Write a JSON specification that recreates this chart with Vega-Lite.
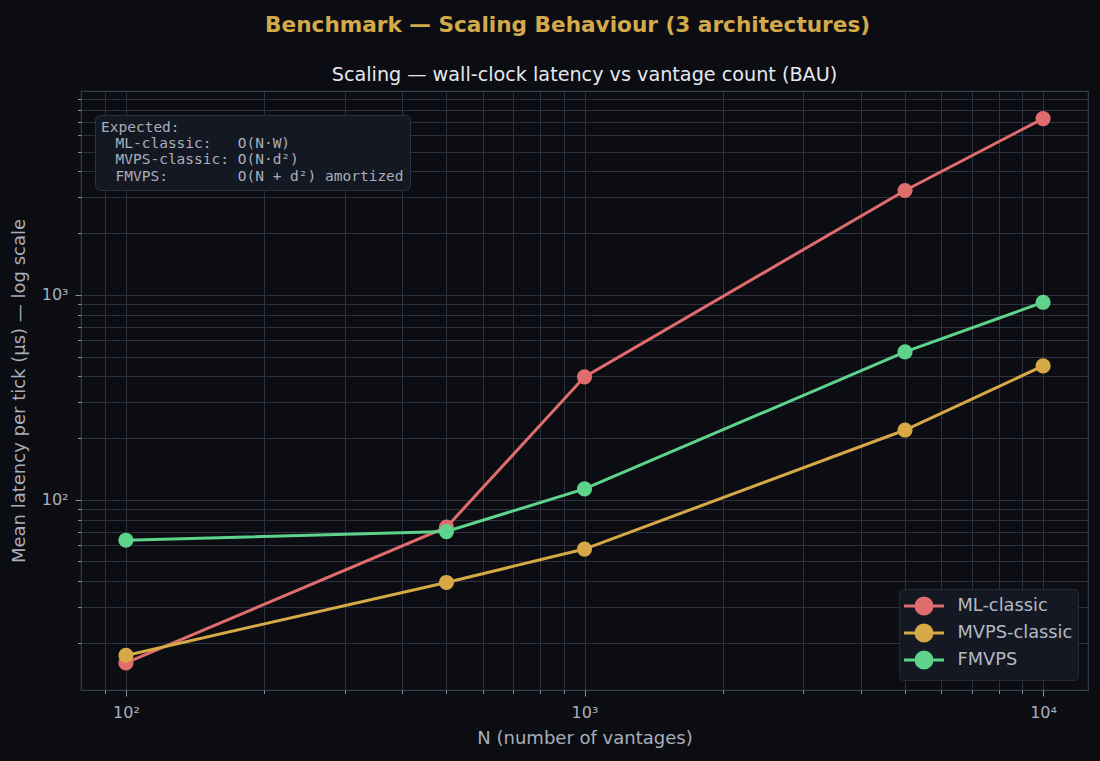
{
  "$schema": "https://vega.github.io/schema/vega-lite/v6.json",
  "autosize": {"type": "none"},
  "padding": {"left": 81, "top": 91, "right": 12, "bottom": 71},
  "width": 1007,
  "height": 599,
  "background": "#0b0d12",
  "title": {
    "text": "Benchmark — Scaling Behaviour (3 architectures)\u2800\u2800",
    "subtitle": "Scaling — wall-clock latency vs vantage count (BAU)",
    "anchor": "middle",
    "frame": "group",
    "font": "DejaVu Sans",
    "fontSize": 21.6,
    "fontWeight": "bold",
    "color": "#d4a94a",
    "subtitleFont": "DejaVu Sans",
    "subtitleFontSize": 19.2,
    "subtitleColor": "#e6e8ee",
    "subtitlePadding": 29,
    "offset": 6
  },
  "datasets": {
    "bench": [
      {"arch": "ML-classic", "n": 100, "latency": 16.0},
      {"arch": "MVPS-classic", "n": 100, "latency": 17.4},
      {"arch": "FMVPS", "n": 100, "latency": 63.5},
      {"arch": "ML-classic", "n": 500, "latency": 73.5},
      {"arch": "MVPS-classic", "n": 500, "latency": 39.5},
      {"arch": "FMVPS", "n": 500, "latency": 70},
      {"arch": "ML-classic", "n": 1000, "latency": 398},
      {"arch": "MVPS-classic", "n": 1000, "latency": 57.5},
      {"arch": "FMVPS", "n": 1000, "latency": 113},
      {"arch": "ML-classic", "n": 5000, "latency": 3230},
      {"arch": "MVPS-classic", "n": 5000, "latency": 219},
      {"arch": "FMVPS", "n": 5000, "latency": 527},
      {"arch": "ML-classic", "n": 10000, "latency": 7250},
      {"arch": "MVPS-classic", "n": 10000, "latency": 450},
      {"arch": "FMVPS", "n": 10000, "latency": 920}
    ],
    "notes": [
      {"note": "\u00a0\u00a0ML-classic:\u00a0\u00a0\u00a0O(N·W)"},
      {"note": "\u00a0\u00a0MVPS-classic:\u00a0O(N·d²)"},
      {"note": "\u00a0\u00a0FMVPS:\u00a0\u00a0\u00a0\u00a0\u00a0\u00a0\u00a0\u00a0O(N\u00a0+\u00a0d²)\u00a0amortized"}
    ]
  },
  "layer": [
    {
      "data": {"name": "bench"},
      "mark": {"type": "line", "strokeWidth": 3, "point": {"size": 230, "filled": true, "opacity": 1}},
      "encoding": {
        "x": {
          "field": "n",
          "type": "quantitative",
          "scale": {"type": "log", "domain": [79.8, 12530], "nice": false},
          "title": "N (number of vantages)",
          "axis": {
            "values": [90, 100, 200, 300, 400, 500, 600, 700, 800, 900, 1000, 2000, 3000, 4000, 5000, 6000, 7000, 8000, 9000, 10000],
            "labelExpr": "datum.value == 100 ? '10²' : datum.value == 1000 ? '10³' : datum.value == 10000 ? '10⁴' : ''",
            "tickSize": {"condition": {"test": "datum.value == 100 || datum.value == 1000 || datum.value == 10000", "value": 6}, "value": 3.5},
            "labelPadding": 8,
            "titlePadding": 9
          }
        },
        "y": {
          "field": "latency",
          "type": "quantitative",
          "scale": {"type": "log", "domain": [11.8, 9880], "nice": false},
          "title": "Mean latency per tick (µs) — log scale",
          "axis": {
            "values": [20, 30, 40, 50, 60, 70, 80, 90, 100, 200, 300, 400, 500, 600, 700, 800, 900, 1000, 2000, 3000, 4000, 5000, 6000, 7000, 8000, 9000],
            "labelExpr": "datum.value == 100 ? '10²' : datum.value == 1000 ? '10³' : datum.value == 10000 ? '10⁴' : ''",
            "tickSize": {"condition": {"test": "datum.value == 100 || datum.value == 1000 || datum.value == 10000", "value": 6}, "value": 3.5},
            "labelPadding": 7,
            "titlePadding": 13
          }
        },
        "color": {
          "field": "arch",
          "type": "nominal",
          "sort": ["ML-classic", "MVPS-classic", "FMVPS"],
          "scale": {"domain": ["ML-classic", "MVPS-classic", "FMVPS"], "range": ["#e06c6e", "#d6a846", "#5dd38c"]},
          "legend": {
            "title": null,
            "orient": "bottom-right",
            "offset": 10,
            "padding": 5.5,
            "rowPadding": -2,
            "fillColor": "#141822",
            "strokeColor": "#262a36",
            "cornerRadius": 4,
            "symbolType": "M-2,0H2M-0.8,0A0.8,0.8,0,1,1,0.8,0A0.8,0.8,0,1,1,-0.8,0Z",
            "symbolSize": 400,
            "symbolStrokeWidth": 3,
            "symbolOffset": 8,
            "labelOffset": 22,
            "labelFont": "DejaVu Sans",
            "labelFontSize": 17.8,
            "labelColor": "#b4b9c6",
            "encode": {
              "symbols": {
                "update": {
                  "fill": {"scale": "color", "field": "value"},
                  "stroke": {"scale": "color", "field": "value"},
                  "opacity": {"value": 1}
                }
              }
            }
          }
        },
        "order": {"field": "n", "type": "quantitative"}
      }
    },
    {
      "data": {"name": "notes"},
      "mark": {"type": "point", "opacity": 0, "size": 0},
      "encoding": {
        "shape": {
          "field": "note",
          "type": "nominal",
          "sort": null,
          "legend": {
            "title": "Expected:",
            "orient": "none",
            "legendX": 14,
            "legendY": 24,
            "padding": 6,
            "rowPadding": 1.2,
            "titlePadding": 1.4,
            "fillColor": "#141822",
            "strokeColor": "#2e3240",
            "cornerRadius": 5,
            "symbolSize": 0,
            "symbolOpacity": 0,
            "labelOffset": 0,
            "titleFont": "DejaVu Sans Mono",
            "titleFontSize": 14.5,
            "titleFontWeight": "normal",
            "titleColor": "#a9aebb",
            "labelFont": "DejaVu Sans Mono",
            "labelFontSize": 14.5,
            "labelColor": "#a9aebb",
            "labelLimit": 0
          }
        }
      }
    }
  ],
  "config": {
    "view": {"fill": "#131620", "stroke": "#393d4a", "strokeWidth": 1.2},
    "axis": {
      "domain": false,
      "grid": true,
      "gridColor": "#2e3240",
      "gridWidth": 1,
      "tickColor": "#8c91a0",
      "tickWidth": 1,
      "labelFont": "DejaVu Sans",
      "labelFontSize": 16,
      "labelColor": "#a9aebb",
      "labelOverlap": false,
      "labelFlush": false,
      "titleFont": "DejaVu Sans",
      "titleFontSize": 18,
      "titleFontWeight": "normal",
      "titleColor": "#a9aebb"
    }
  }
}
